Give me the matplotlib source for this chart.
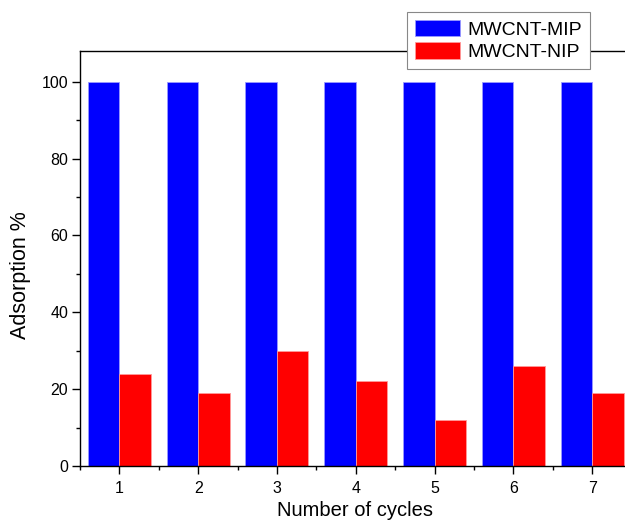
import numpy as np
import matplotlib
matplotlib.use("Agg")
import matplotlib.pyplot as plt
from matplotlib.ticker import MultipleLocator

plt.rcParams['font.family'] = ['Liberation Sans', 'DejaVu Sans']

cycles = [1, 2, 3, 4, 5, 6, 7]
mip_values = [100, 100, 100, 100, 100, 100, 100]
nip_values = [24, 19, 30, 22, 12, 26, 19]
series_labels = ["MWCNT-MIP", "MWCNT-NIP"]

W, H = 625, 523
fig = plt.figure(figsize=(W / 100, H / 100), dpi=100)

# axes box in pixels: left 80, top 51, bottom 466, right runs past the canvas
left, right, top, bottom = 80, 631.5, 51, 466
ax = fig.add_axes([left / W, 1 - bottom / H, (right - left) / W, (bottom - top) / H])

x = np.array(cycles, dtype=float)
bw = 0.4
ax.bar(x - bw / 2, mip_values, width=bw, color='#0000ff', edgecolor='#9a9aff',
       linewidth=0.6, label=series_labels[0])
ax.bar(x + bw / 2, nip_values, width=bw, color='#ff0000', edgecolor='#ff9a9a',
       linewidth=0.6, label=series_labels[1])

ax.set_xlim(0.5, 7.5)
ax.set_ylim(0, 108)
ax.set_xticks(cycles)
ax.xaxis.set_minor_locator(MultipleLocator(0.5))
ax.yaxis.set_major_locator(MultipleLocator(20))
ax.yaxis.set_minor_locator(MultipleLocator(10))

for s in ax.spines.values():
    s.set_linewidth(1.0)
    s.set_color('black')

ax.tick_params(axis='both', which='major', direction='out', length=5.5, width=1,
               labelsize=11.5, top=False, right=False, pad=3)
ax.tick_params(axis='x', which='major', pad=5)
ax.tick_params(axis='both', which='minor', direction='out', length=3, width=1,
               top=False, right=False)
ax.tick_params(axis='x', which='minor', bottom=True)

fig.text(355 / W, 1 - 516 / H, "Number of cycles", ha='center', va='baseline',
         fontsize=14.5)
fig.text(21 / W, 1 - 275 / H, "Adsorption %", ha='center', va='center',
         rotation=90, fontsize=15.5)

leg = ax.legend(loc='upper left', bbox_to_anchor=(407 / W, 1 - 12 / H),
                bbox_transform=fig.transFigure, fontsize=14, frameon=True,
                fancybox=False, edgecolor='#888888', framealpha=1,
                handlelength=2.3, handleheight=0.9, handletextpad=0.4,
                borderpad=0.4, labelspacing=0.2, borderaxespad=0)
leg.get_frame().set_linewidth(0.8)

fig.savefig("out.png", dpi=100)
